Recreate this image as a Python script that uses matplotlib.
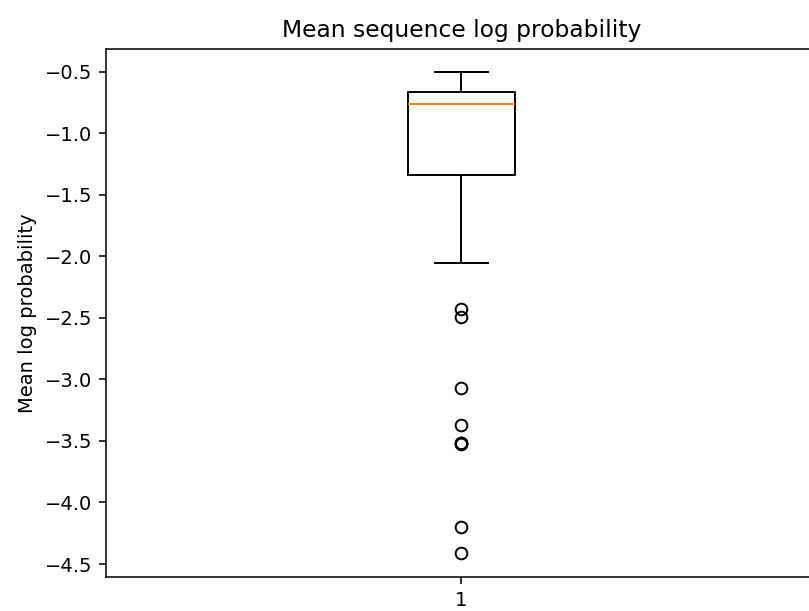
import matplotlib
matplotlib.use("Agg")
import matplotlib.pyplot as plt

# Box statistics
label = "1"
whisker_high = -0.50
q3 = -0.662
median = -0.765
q1 = -1.339
whisker_low = -2.056
outliers = [-2.428, -2.495, -3.072, -3.370, -3.515, -3.519, -3.522, -4.196, -4.412]

DPI = 140
fig = plt.figure(figsize=(809 / DPI, 611 / DPI), dpi=DPI)
ax = fig.add_axes([105.7 / 809, (611 - 577.3) / 611, 711 / 809, (577.3 - 49) / 611])

stats = [{
    "label": label,
    "med": median,
    "q1": q1,
    "q3": q3,
    "whislo": whisker_low,
    "whishi": whisker_high,
    "fliers": outliers,
}]
ax.bxp(stats, positions=[1], widths=0.15, showfliers=True)
ax.set_xlim(0.5, 1.5)
ax.set_ylim(-4.608, -0.316)
ax.set_title("Mean sequence log probability", fontsize=12)
ax.set_ylabel("Mean log probability")

fig.savefig("out.png", dpi=DPI)
